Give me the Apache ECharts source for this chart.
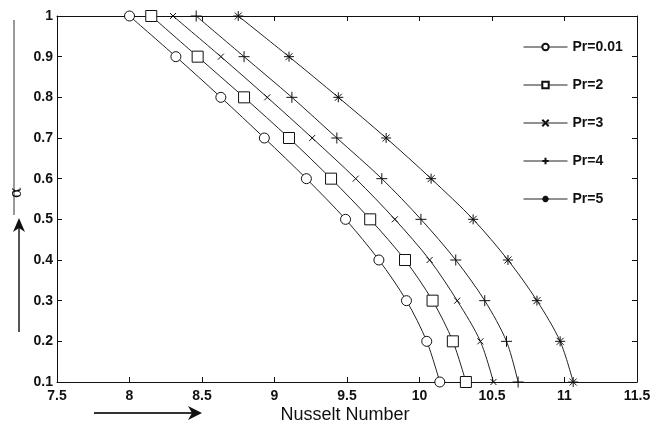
<!DOCTYPE html>
<html>
<head>
<meta charset="utf-8">
<script src="https://cdn.jsdelivr.net/npm/echarts@6/dist/echarts.min.js"></script>
<style>
    html, body { margin: 0; padding: 0; background: #fff; }
    #chart { width: 662px; height: 431px; }
</style>
</head>
<body>
<div id="chart"></div>
<script>
// alpha values (y axis)
const alpha = [1.0, 0.9, 0.8, 0.7, 0.6, 0.5, 0.4, 0.3, 0.2, 0.1];
// Nusselt number for each Pr
const nuPr001 = [8.00, 8.32, 8.63, 8.93, 9.22, 9.49, 9.72, 9.91, 10.05, 10.14];
const nuPr2 = [8.15, 8.47, 8.79, 9.10, 9.39, 9.66, 9.90, 10.09, 10.23, 10.32];
const nuPr3 = [8.30, 8.63, 8.95, 9.26, 9.56, 9.83, 10.07, 10.26, 10.42, 10.51];
const nuPr4 = [8.46, 8.79, 9.12, 9.43, 9.74, 10.01, 10.25, 10.45, 10.60, 10.68];
const nuPr5 = [8.75, 9.10, 9.44, 9.77, 10.08, 10.37, 10.61, 10.81, 10.97, 11.06];
const names = ["Pr=0.01", "Pr=2", "Pr=3", "Pr=4", "Pr=5"];

const FONT = "Liberation Sans";
const lineCol = "#222";

function mk(name, nu, symbol, size) {
    return {
        name: name,
        type: "line",
        data: nu.map((v, i) => [v, alpha[i]]),
        smooth: 0.3,
        symbol: symbol,
        symbolSize: size,
        lineStyle: { color: lineCol, width: 1 },
        itemStyle: { color: "#fff", borderColor: "#111", borderWidth: 1 },
        emphasis: { disabled: true },
    };
}

const xMark = "path://M0,0L10,10M10,0L0,10";
const plusMark = "path://M5,0L5,10M0,5L10,5";
const starMark = "path://M5,0L5,10M0,5L10,5M1.5,1.5L8.5,8.5M8.5,1.5L1.5,8.5";

const myChart = echarts.init(document.getElementById("chart"));
const option = {
    backgroundColor: "#fff",
    animation: false,
    textStyle: { fontFamily: FONT },
    grid: { left: 57, right: 25, top: 16, bottom: 49 },
    legend: {
        orient: "vertical",
        left: 523,
        top: 40,
        padding: 0,
        itemWidth: 44,
        itemHeight: 8,
        itemGap: 24,
        data: names,
        lineStyle: { width: 1 },
        textStyle: { fontFamily: FONT, fontWeight: "bold", fontSize: 14, color: "#111" },
    },
    xAxis: [
        {
            type: "value",
            min: 7.5,
            max: 11.5,
            interval: 0.5,
            axisLine: { show: true, lineStyle: { color: "#111", width: 1 } },
            axisTick: { show: true, inside: true, length: 5, lineStyle: { color: "#111" } },
            axisLabel: { fontFamily: FONT, fontWeight: "bold", fontSize: 14, color: "#111", margin: 7 },
            splitLine: { show: false },
        },
        {
            type: "value",
            position: "top",
            min: 7.5,
            max: 11.5,
            interval: 0.5,
            axisLine: { show: true, lineStyle: { color: "#111", width: 1 } },
            axisTick: { show: true, inside: true, length: 5, lineStyle: { color: "#111" } },
            axisLabel: { show: false },
            splitLine: { show: false },
        },
    ],
    yAxis: [
        {
            type: "value",
            min: 0.1,
            max: 1,
            interval: 0.1,
            axisLine: { show: true, lineStyle: { color: "#111", width: 1 } },
            axisTick: { show: true, inside: true, length: 5, lineStyle: { color: "#111" } },
            axisLabel: { fontFamily: FONT, fontWeight: "bold", fontSize: 14, color: "#111", margin: 4 },
            splitLine: { show: false },
        },
        {
            type: "value",
            position: "right",
            min: 0.1,
            max: 1,
            interval: 0.1,
            axisLine: { show: true, lineStyle: { color: "#111", width: 1 } },
            axisTick: { show: true, inside: true, length: 5, lineStyle: { color: "#111" } },
            axisLabel: { show: false },
            splitLine: { show: false },
        },
    ],
    series: [
        mk(names[0], nuPr001, "circle", 10),
        mk(names[1], nuPr2, "rect", 11),
        mk(names[2], nuPr3, xMark, 6),
        mk(names[3], nuPr4, plusMark, 11),
        mk(names[4], nuPr5, starMark, 10),
    ],
    graphic: [
        // x axis title + arrow
        {
            type: "text",
            x: 345,
            y: 406,
            style: { text: "Nusselt Number", font: "18px Liberation Sans", fill: "#111", align: "center" },
        },
        {
            type: "line",
            shape: { x1: 94, y1: 413, x2: 196, y2: 413 },
            style: { stroke: "#333", lineWidth: 2 },
        },
        {
            type: "polygon",
            shape: { points: [[202, 413], [188, 406], [192, 413], [188, 420]] },
            style: { fill: "#111" },
        },
        // y axis title + arrow
        {
            type: "line",
            shape: { x1: 14, y1: 20, x2: 14, y2: 215 },
            style: { stroke: "#777", lineWidth: 1.5 },
        },
        {
            type: "text",
            x: 9,
            y: 198,
            rotation: Math.PI / 2,
            style: { text: "α", font: "16px DejaVu Serif", fill: "#111" },
        },
        {
            type: "line",
            shape: { x1: 19, y1: 332, x2: 19, y2: 224 },
            style: { stroke: "#555", lineWidth: 2 },
        },
        {
            type: "polygon",
            shape: { points: [[19, 218], [13, 232], [19, 228], [25, 232]] },
            style: { fill: "#111" },
        },
    ],
};
myChart.setOption(option);
</script>
</body>
</html>
